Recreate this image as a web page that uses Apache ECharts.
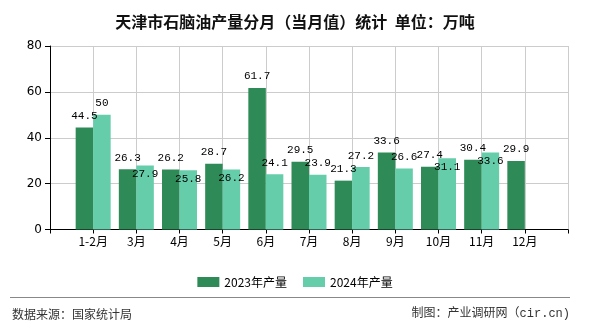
<!DOCTYPE html>
<html>
<head>
<meta charset="utf-8">
<style>
  html, body { margin: 0; padding: 0; background: #fff; }
  #chart { width: 590px; height: 330px; }
</style>
<script src="https://cdn.jsdelivr.net/npm/echarts@6/dist/echarts.min.js"></script>
</head>
<body>
<div id="chart"></div>
<script>
// Monthly naphtha output in Tianjin (10k tonnes)
const months = ['1-2月', '3月', '4月', '5月', '6月', '7月', '8月', '9月', '10月', '11月', '12月'];
const output2023 = [44.5, 26.3, 26.2, 28.7, 61.7, 29.5, 21.3, 33.6, 27.4, 30.4, 29.9];
const output2024 = [50, 27.9, 25.8, 26.2, 24.1, 23.9, 27.2, 26.6, 31.1, 33.6, null];
const seriesNames = ['2023年产量', '2024年产量'];
const yTicks = { min: 0, max: 80, interval: 20 };

// 2024 labels that sit inside the bar top so they don't collide with the 2023 labels
const insideLabelIdx = [1, 2, 3, 8, 9];

// blank slots at both ends so month labels sit on the grid lines
const axisCats = [''].concat(months, ['']);
const pad = arr => ['-'].concat(arr.map(v => (v == null ? '-' : v)), ['-']);

const labelFont = { fontFamily: 'Liberation Mono', fontSize: 11, color: '#000' };

const data2024 = pad(output2024).map((v, i) => {
  if (insideLabelIdx.indexOf(i - 1) >= 0) {
    return { value: v, label: { position: 'insideTop', distance: 3 } };
  }
  return v;
});

const chart = echarts.init(document.getElementById('chart'), null, { renderer: 'canvas' });
chart.setOption({
  backgroundColor: '#fff',
  animation: false,
  title: {
    text: '天津市石脑油产量分月（当月值）统计  单位：万吨',
    left: 'center',
    top: 9,
    textStyle: { fontFamily: 'Noto Sans CJK SC', fontSize: 16, fontWeight: 'bold', color: '#111' }
  },
  grid: { left: 50, right: 22, top: 46, bottom: 100.5 },
  legend: {
    data: seriesNames,
    left: 'center',
    top: 271,
    itemWidth: 22,
    itemHeight: 10,
    itemGap: 16,
    icon: 'rect',
    textStyle: { fontFamily: 'Noto Sans CJK SC', fontSize: 12, color: '#000' }
  },
  xAxis: {
    type: 'category',
    data: axisCats,
    boundaryGap: false,
    axisLine: { lineStyle: { color: '#000', width: 1 } },
    axisTick: { length: 4, lineStyle: { color: '#000' } },
    axisLabel: { interval: 0, margin: 6, fontFamily: 'Noto Sans CJK SC', fontSize: 12, color: '#000' },
    splitLine: { show: true, lineStyle: { color: '#cccccc', width: 1 } }
  },
  yAxis: {
    type: 'value',
    min: yTicks.min,
    max: yTicks.max,
    interval: yTicks.interval,
    axisLine: { show: true, lineStyle: { color: '#000', width: 1 } },
    axisTick: { show: true, length: 5, lineStyle: { color: '#000' } },
    axisLabel: { margin: 8, fontFamily: 'DejaVu Sans', fontSize: 12, color: '#000' },
    splitLine: { show: true, lineStyle: { color: '#cccccc', width: 1 } }
  },
  series: [
    {
      name: seriesNames[0],
      type: 'bar',
      data: pad(output2023),
      barWidth: 17.5,
      barGap: '0%',
      itemStyle: { color: '#2e8b57' },
      label: Object.assign({ show: true, position: 'top', distance: 6 }, labelFont)
    },
    {
      name: seriesNames[1],
      type: 'bar',
      data: data2024,
      barWidth: 17.5,
      barGap: '0%',
      itemStyle: { color: '#66cdaa' },
      label: Object.assign({ show: true, position: 'top', distance: 6 }, labelFont)
    }
  ],
  graphic: [
    {
      type: 'line',
      shape: { x1: 10, y1: 297.5, x2: 570, y2: 297.5 },
      style: { stroke: '#888', lineWidth: 1 }
    },
    {
      type: 'text',
      left: 12,
      top: 308,
      style: { text: '数据来源：国家统计局', fontFamily: 'Noto Sans CJK SC', fontSize: 12, fill: '#333' }
    },
    {
      type: 'text',
      right: 20,
      top: 308,
      style: { text: '制图：产业调研网（cir.cn)', fontFamily: '"Liberation Mono", "Noto Sans CJK SC"', fontSize: 12, fill: '#333' }
    }
  ]
});
</script>
</body>
</html>
